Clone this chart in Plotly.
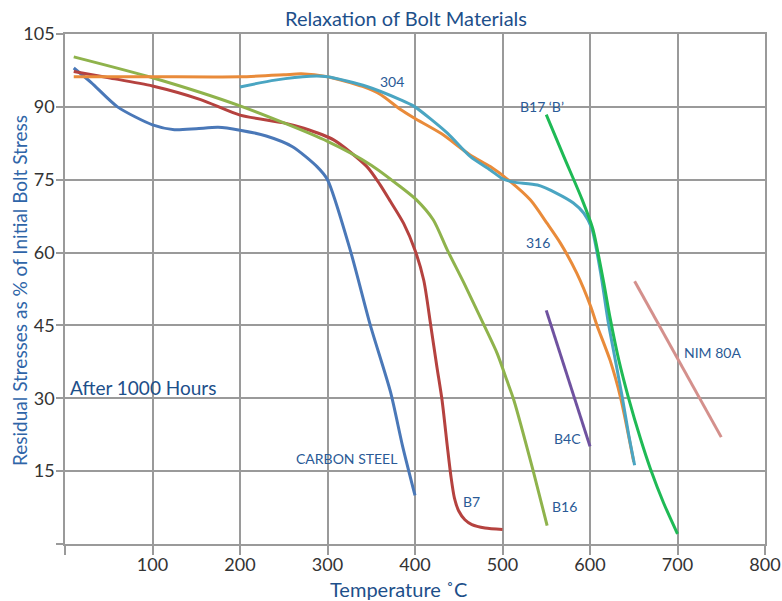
import plotly.graph_objects as go

# ---- data ----
carbon_x = [10, 30, 60, 100, 125, 150, 175, 200, 230, 260, 288, 300, 326, 349, 372, 386, 400]
carbon_y = [98, 95, 90, 86.3, 85.3, 85.5, 85.8, 85.2, 84, 81.8, 77.7, 75, 60.5, 45, 31.3, 20, 10]

b7_x = [10, 50, 100, 155, 200, 250, 273, 307, 345, 360, 372, 387, 400, 410, 418, 425, 431, 437, 441, 445, 450, 457, 465, 480, 500]
b7_y = [97.3, 96, 94.3, 91.5, 88.3, 86.7, 85.6, 83.2, 77.7, 74, 70.5, 66, 60.5, 54.3, 45, 36.5, 29.5, 20, 14, 9.5, 6.8, 5, 4, 3.3, 3.0]

b16_x = [10, 100, 200, 300, 350, 383, 402, 421, 437, 456, 479, 494, 505, 513, 535, 551]
b16_y = [100.3, 96, 90.2, 82.9, 78, 73.6, 70.8, 66.7, 60.5, 53.7, 45, 39.2, 33.7, 29.6, 15.1, 3.8]

s316_x = [10, 100, 200, 250, 270, 300, 340, 361, 383, 399, 430, 463, 486, 509, 532, 551, 566, 585, 601, 608, 623, 635, 650]
s316_y = [96.2, 96.2, 96.2, 96.6, 96.8, 96.2, 94.2, 92.5, 89.5, 87.7, 84.5, 80.1, 77.7, 74.6, 70.8, 66.0, 62.0, 55.7, 48.8, 45, 37.8, 30.1, 16.9]

s304_x = [200, 240, 280, 300, 345, 383, 399, 437, 463, 486, 501, 513, 540, 562, 581, 593, 602, 612, 621, 629, 637, 644, 651]
s304_y = [94.1, 95.5, 96.3, 96.2, 94.2, 91.5, 90.1, 84.6, 79.8, 77, 75.1, 74.5, 73.9, 72.2, 70.2, 68.1, 65, 56, 45.5, 37.8, 30.1, 22.7, 16.2]

b17_x = [550, 570, 591, 603, 608, 616, 623, 633, 644, 658, 669, 684, 700]
b17_y = [88.4, 79.8, 70.9, 65, 61, 53.5, 46.5, 37.8, 30.1, 21.5, 15.5, 8.5, 2.1]

b4c_x = [550, 600]
b4c_y = [48.1, 20.1]

nim_x = [651, 750]
nim_y = [54.1, 22]

x_ticks = [0, 100, 200, 300, 400, 500, 600, 700, 800]
x_ticktext = ["", "100", "200", "300", "400", "500", "600", "700", "800"]
y_ticks = [0, 15, 30, 45, 60, 75, 90, 105]
y_ticktext = ["", "15", "30", "45", "60", "75", "90", "105"]

labels_text = ["304", "B17 \u2018B\u2019", "316", "NIM 80A", "B4C", "CARBON STEEL", "B7", "B16"]
labels_x = [374, 545, 540, 740, 574, 322, 465, 571]
labels_y = [95.2, 90, 62.1, 39.4, 21.8, 17.7, 8.8, 7.8]

FONT = "Lato"
LABEL_COLOR = "#2a5a96"

series = [
    (carbon_x, carbon_y, "#4a78b8", "Carbon steel"),
    (b7_x, b7_y, "#b5423f", "B7"),
    (b16_x, b16_y, "#8fb34c", "B16"),
    (s316_x, s316_y, "#e98b3a", "316"),
    (s304_x, s304_y, "#4aa5c2", "304"),
    (b17_x, b17_y, "#1fba55", "B17 'B'"),
    (b4c_x, b4c_y, "#6f52a0", "B4C"),
    (nim_x, nim_y, "#d4908c", "NIM 80A"),
]

fig = go.Figure()
for xs, ys, col, name in series:
    fig.add_trace(go.Scatter(
        x=xs, y=ys, mode="lines", name=name,
        line=dict(color=col, width=3, shape="spline", smoothing=0.7),
        showlegend=False, hoverinfo="skip",
    ))

W, H = 782, 601
ML, MR, MT, MB = 65, 17, 34, 57
PW, PH = W - ML - MR, H - MT - MB


def px_to_paper(px, py):
    return (px - ML) / PW, (H - MB - py) / PH


annotations = []
for t, ax, ay in zip(labels_text, labels_x, labels_y):
    annotations.append(dict(x=ax, y=ay, xref="x", yref="y", text=t, showarrow=False,
                            xanchor="center", yanchor="middle",
                            font=dict(family=FONT, size=14, color=LABEL_COLOR)))

annotations.append(dict(x=3, y=32.3, xref="x", yref="y", text="After 1000 Hours",
                        showarrow=False, xanchor="left", yanchor="middle",
                        font=dict(family=FONT, size=19, color="#1d4f8a")))
tx, ty = px_to_paper(406, 18)
annotations.append(dict(x=tx, y=ty, xref="paper", yref="paper",
                        text="Relaxation of Bolt Materials", showarrow=False,
                        xanchor="center", yanchor="middle",
                        font=dict(family=FONT, size=20, color="#1d4f8a")))
yx, yy = px_to_paper(19, 291)
annotations.append(dict(x=yx, y=yy, xref="paper", yref="paper",
                        text="Residual Stresses as % of Initial Bolt Stress", textangle=-90,
                        showarrow=False, xanchor="center", yanchor="middle",
                        font=dict(family=FONT, size=19, color="#2f65a8")))
xx, xy = px_to_paper(398, 589)
annotations.append(dict(x=xx, y=xy, xref="paper", yref="paper",
                        text="Temperature \u02daC", showarrow=False,
                        xanchor="center", yanchor="middle",
                        font=dict(family=FONT, size=20, color="#1d4f8a")))

fig.update_layout(
    width=W, height=H, autosize=False,
    margin=dict(l=ML, r=MR, t=MT, b=MB, pad=0, autoexpand=False),
    paper_bgcolor="white", plot_bgcolor="white",
    font=dict(family=FONT, size=17, color="#333333"),
    annotations=annotations,
    showlegend=False,
)
fig.update_xaxes(range=[0, 800], tickvals=x_ticks, ticktext=x_ticktext, automargin=False,
                 showgrid=True, gridcolor="#9a9a9a", gridwidth=1.5,
                 showline=True, linecolor="#9a9a9a", linewidth=1.5, mirror=True,
                 ticks="outside", ticklen=9, tickcolor="#9a9a9a", tickwidth=1.5,
                 ticklabelstandoff=-5,
                 zeroline=False, tickfont=dict(family=FONT, size=18, color="#333333"))
fig.update_yaxes(range=[0, 105], tickvals=y_ticks, ticktext=y_ticktext, automargin=False,
                 showgrid=True, gridcolor="#9a9a9a", gridwidth=1.5,
                 showline=True, linecolor="#9a9a9a", linewidth=1.5, mirror=True,
                 ticks="outside", ticklen=7, tickcolor="#9a9a9a", tickwidth=1.5,
                 ticklabelstandoff=-2,
                 zeroline=False, tickfont=dict(family=FONT, size=18, color="#333333"))

fig.write_html("out.html",
               config={"displayModeBar": False, "responsive": False},
               post_script="document.body.style.margin='0';document.body.style.overflow='hidden';")
